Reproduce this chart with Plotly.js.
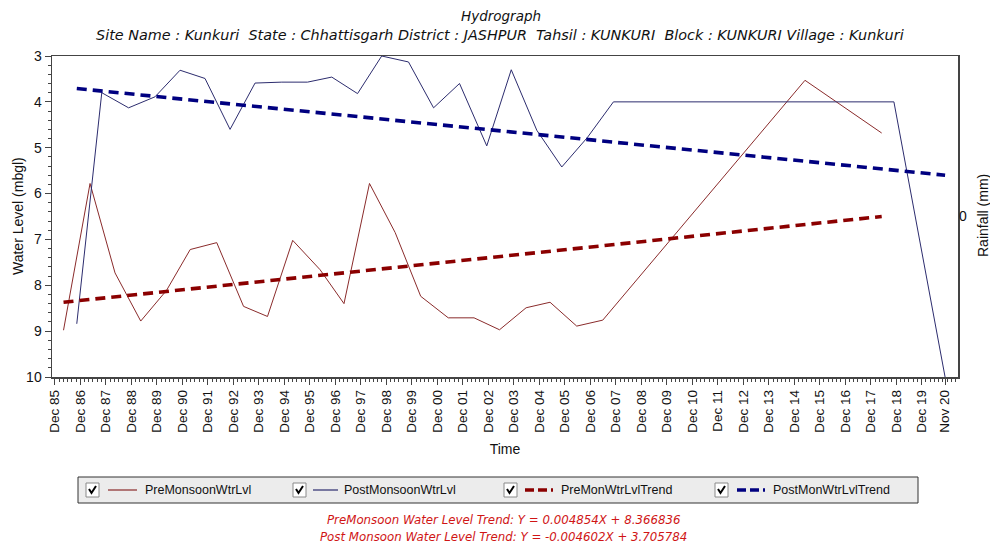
<!DOCTYPE html>
<html>
<head>
<meta charset="utf-8">
<script src="https://cdn.plot.ly/plotly-3.0.1.min.js"></script>
<style>
  html, body { margin: 0; padding: 0; background: #ffffff; }
  #chart { width: 990px; height: 548px; }
</style>
</head>
<body>
<div id="chart"></div>
<script>
// ---------------- data ----------------
const preDates = ["1986-04-05","1987-04-20","1988-04-12","1989-04-15","1990-04-20","1991-03-25",
  "1992-04-08","1993-04-27","1994-04-05","1995-04-01","1996-04-27","1997-04-05","1998-04-05",
  "1999-04-08","2000-04-08","2001-05-08","2002-05-12","2003-05-12","2004-05-27","2005-05-05",
  "2006-05-22","2007-05-30","2015-05-05","2018-05-08"];
const preVals = [8.98,5.78,7.73,8.78,8.11,7.22,7.07,8.46,8.68,7.02,7.66,8.40,5.78,6.85,8.24,8.71,
  8.71,8.97,8.49,8.37,8.89,8.76,3.53,4.68];

const postDates = ["1986-10-12","1987-10-05","1988-10-23","1989-11-06","1990-10-30","1991-10-23",
  "1992-10-16","1993-10-09","1994-10-27","1995-10-30","1996-10-12","1997-10-16","1998-09-27",
  "1999-10-16","2000-10-09","2001-10-16","2002-11-10","2003-10-27","2004-10-27","2005-10-20",
  "2006-10-20","2007-10-30","2018-10-30","2020-11-01"];
const postVals = [8.84,3.80,4.13,3.89,3.31,3.49,4.60,3.59,3.57,3.57,3.46,3.82,3.00,3.13,4.13,3.60,
  4.96,3.30,4.62,5.42,4.78,4.00,4.00,10.0];

const preTrendDates = ["1986-04-05","2018-05-08"];
const preTrendVals = [8.37, 6.50];
const postTrendDates = ["1986-10-12","2020-11-01"];
const postTrendVals = [3.71, 5.60];

const tickDates = ["1985-12-01","1986-12-01","1987-12-01","1988-12-01","1989-12-01","1990-12-01",
  "1991-12-01","1992-12-01","1993-12-01","1994-12-01","1995-12-01","1996-12-01","1997-12-01",
  "1998-12-01","1999-12-01","2000-12-01","2001-12-01","2002-12-01","2003-12-01","2004-12-01",
  "2005-12-01","2006-12-01","2007-12-01","2008-12-01","2009-12-01","2010-12-01","2011-12-01",
  "2012-12-01","2013-12-01","2014-12-01","2015-12-01","2016-12-01","2017-12-01","2018-12-01",
  "2019-12-01","2020-11-01"];
const tickLabels = ["Dec 85","Dec 86","Dec 87","Dec 88","Dec 89","Dec 90","Dec 91","Dec 92",
  "Dec 93","Dec 94","Dec 95","Dec 96","Dec 97","Dec 98","Dec 99","Dec 00","Dec 01","Dec 02",
  "Dec 03","Dec 04","Dec 05","Dec 06","Dec 07","Dec 08","Dec 09","Dec 10","Dec 11","Dec 12",
  "Dec 13","Dec 14","Dec 15","Dec 16","Dec 17","Dec 18","Dec 19","Nov 20"];

const seriesNames = ["PreMonsoonWtrLvl","PostMonsoonWtrLvl","PreMonWtrLvlTrend","PostMonWtrLvlTrend"];
const titleText = "Hydrograph";
const subtitleText = "Site Name : Kunkuri&nbsp; State : Chhattisgarh District : JASHPUR&nbsp; Tahsil : KUNKURI&nbsp; Block : KUNKURI Village : Kunkuri";
const yTitle = "Water Level (mbgl)";
const y2Title = "Rainfall (mm)";
const trendTexts = ["PreMonsoon Water Level Trend: Y = 0.004854X + 8.366836",
                    "Post Monsoon Water Level Trend: Y = -0.004602X + 3.705784"];

// ---------------- styling ----------------
const FONT = "Liberation Sans, Arial, sans-serif";
const WFONT = "DejaVu Sans, Liberation Sans, sans-serif";
const cPre = "#8a2b2b", cPost = "#2c2c6e", cPreT = "#8b0000", cPostT = "#000080";
const M = {l: 52, r: 32, t: 56, b: 171};
const PW = 990 - M.l - M.r, PH = 548 - M.t - M.b;
const X = px => (px - M.l) / PW;          // pixel -> paper
const Y = py => (548 - M.b - py) / PH;

const traces = [
  {x: preDates, y: preVals, name: seriesNames[0], type: "scatter", mode: "lines",
   line: {color: cPre, width: 1}},
  {x: postDates, y: postVals, name: seriesNames[1], type: "scatter", mode: "lines",
   line: {color: cPost, width: 1}},
  {x: preTrendDates, y: preTrendVals, name: seriesNames[2], type: "scatter", mode: "lines",
   line: {color: cPreT, width: 3.6, dash: "10px,6px"}},
  {x: postTrendDates, y: postTrendVals, name: seriesNames[3], type: "scatter", mode: "lines",
   line: {color: cPostT, width: 3.6, dash: "10px,6px"}},
  {x: [], y: [], yaxis: "y2", name: "Rainfall", type: "scatter", mode: "lines", showlegend: false}
];

// ---- custom legend (checkbox + sample + label) ----
const shapes = [];
const annotations = [];
const lgTop = 477, lgBot = 503, lgMid = 490;
shapes.push({type: "rect", xref: "paper", yref: "paper", x0: X(78), x1: X(918), y0: Y(lgTop), y1: Y(lgBot),
  line: {color: "#333", width: 1}, fillcolor: "#ececec", layer: "above"});
const items = [
  {cb: 86,  l0: 108, l1: 137, tx: 143, color: cPre,   dash: "solid", w: 1.2},
  {cb: 293, l0: 313, l1: 338, tx: 342, color: cPost,  dash: "solid", w: 1.2},
  {cb: 504, l0: 525, l1: 553, tx: 559, color: cPreT,  dash: "9px,4px", w: 3.6},
  {cb: 715, l0: 737, l1: 765, tx: 771, color: cPostT, dash: "9px,4px", w: 3.6}
];
items.forEach((it, i) => {
  shapes.push({type: "rect", xref: "paper", yref: "paper", x0: X(it.cb), x1: X(it.cb + 13),
    y0: Y(lgMid - 7), y1: Y(lgMid + 7), line: {color: "#8a8a8a", width: 1}, fillcolor: "#ffffff", layer: "above"});
  shapes.push({type: "path", xref: "paper", yref: "paper",
    path: `M ${X(it.cb + 3)} ${Y(lgMid - 1)} L ${X(it.cb + 5.5)} ${Y(lgMid + 3)} L ${X(it.cb + 10)} ${Y(lgMid - 4)}`,
    line: {color: "#000", width: 2}, layer: "above"});
  shapes.push({type: "line", xref: "paper", yref: "paper", x0: X(it.l0), x1: X(it.l1), y0: Y(lgMid), y1: Y(lgMid),
    line: {color: it.color, width: it.w, dash: it.dash}, layer: "above"});
  annotations.push({xref: "paper", yref: "paper", x: X(it.tx), y: Y(lgMid), xanchor: "left", yanchor: "middle",
    text: seriesNames[i], showarrow: false, font: {family: FONT, size: 12.5, color: "#111"}});
});
// title lines
annotations.push({xref: "paper", yref: "paper", x: X(501), y: Y(16), xanchor: "center", yanchor: "middle",
  text: "<i>" + titleText + "</i>", showarrow: false, font: {family: WFONT, size: 13.5, color: "#111"}});
annotations.push({xref: "paper", yref: "paper", x: X(500), y: Y(35), xanchor: "center", yanchor: "middle",
  text: "<i>" + subtitleText + "</i>", showarrow: false, font: {family: WFONT, size: 14.4, color: "#111"}});
// axis titles (placed exactly as in the reference)
annotations.push({xref: "paper", yref: "paper", x: X(18), y: Y(216), xanchor: "center", yanchor: "middle",
  textangle: -90, text: yTitle, showarrow: false, font: {family: FONT, size: 14, color: "#111"}});
annotations.push({xref: "paper", yref: "paper", x: X(983), y: Y(216), xanchor: "center", yanchor: "middle",
  textangle: -90, text: y2Title, showarrow: false, font: {family: FONT, size: 14, color: "#111"}});
// trend equations
annotations.push({xref: "paper", yref: "paper", x: X(503), y: Y(520), xanchor: "center", yanchor: "middle",
  text: "<i>" + trendTexts[0] + "</i>", showarrow: false, font: {family: WFONT, size: 11.8, color: "#d01515"}});
annotations.push({xref: "paper", yref: "paper", x: X(503), y: Y(537), xanchor: "center", yanchor: "middle",
  text: "<i>" + trendTexts[1] + "</i>", showarrow: false, font: {family: WFONT, size: 11.8, color: "#d01515"}});

const layout = {
  width: 990, height: 548,
  margin: M,
  paper_bgcolor: "#ffffff", plot_bgcolor: "#ffffff",
  showlegend: false,
  font: {family: FONT, size: 14, color: "#111"},
  xaxis: {
    type: "date",
    range: ["1985-10-22", "2021-05-05"],
    tickmode: "array", tickvals: tickDates, ticktext: tickLabels,
    tickangle: -90,
    ticks: "outside", ticklen: 6, tickcolor: "#444", tickwidth: 1,
    tickfont: {family: FONT, size: 13.5, color: "#111"},
    minor: {tick0: "1985-12-01", dtick: "M2", ticks: "outside", ticklen: 3, tickcolor: "#444", showgrid: false},
    showgrid: false, zeroline: false,
    showline: true, linecolor: "#444", linewidth: 1.5, mirror: true,
    title: {text: "Time", font: {family: FONT, size: 14, color: "#111"}, standoff: 12},
    automargin: false
  },
  yaxis: {
    range: [10, 3],
    tickmode: "linear", tick0: 3, dtick: 1,
    ticks: "outside", ticklen: 6, tickcolor: "#444",
    tickfont: {family: FONT, size: 14, color: "#111"},
    minor: {dtick: 0.2, ticks: "outside", ticklen: 3, tickcolor: "#444", showgrid: false},
    showgrid: false, zeroline: false,
    showline: true, linecolor: "#444", linewidth: 1.5, mirror: true,
    automargin: false
  },
  yaxis2: {
    overlaying: "y", side: "right",
    range: [-1, 1], tickmode: "array", tickvals: [0], ticktext: ["0"],
    ticks: "", showgrid: false, zeroline: false, showline: false,
    tickfont: {family: FONT, size: 14, color: "#111"},
    automargin: false
  },
  shapes: shapes,
  annotations: annotations
};

Plotly.newPlot("chart", traces, layout, {displayModeBar: false, staticPlot: true});
</script>
</body>
</html>
